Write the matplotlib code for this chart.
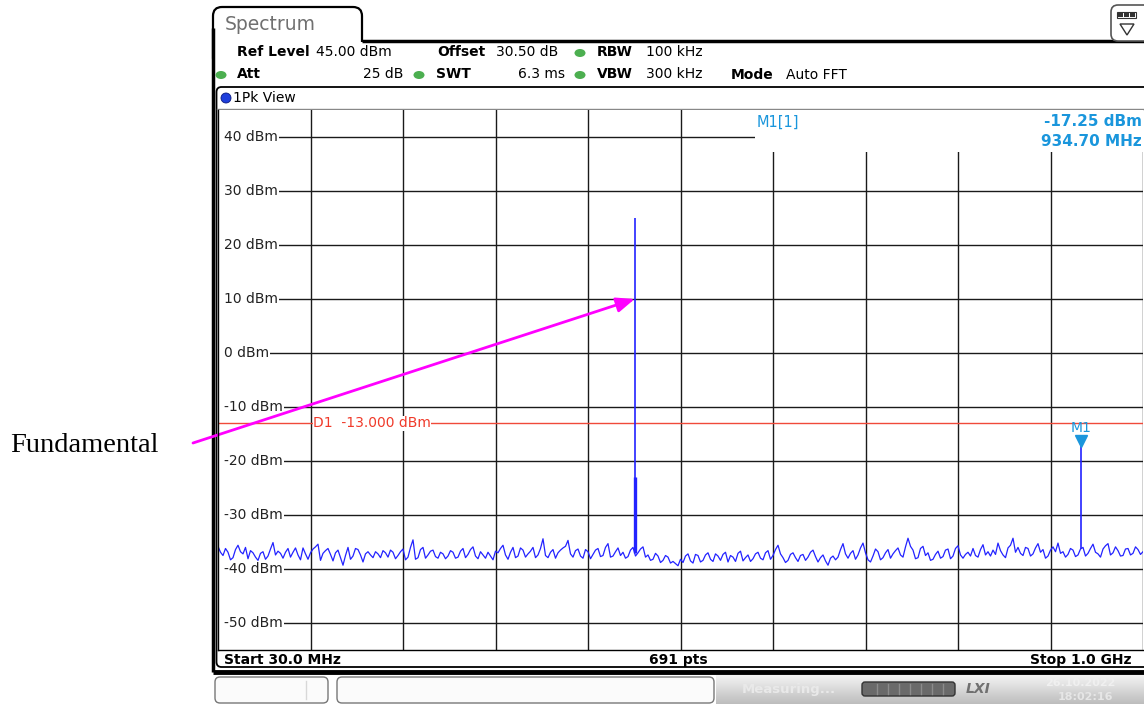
import numpy as np
import matplotlib
matplotlib.use('Agg')
import matplotlib.pyplot as plt
from matplotlib.patches import FancyBboxPatch, Rectangle, Circle, Polygon, Ellipse

# ---------------- data ----------------
start_mhz = 30.0
stop_mhz = 1000.0
ref_level = 45.0
bottom_level = -55.0

noise_dbm = [
    # 30 - 190 MHz
    -35.8, -36.9, -37.5, -36.2, -36.9, -38.3, -37.9, -36.4, -35.6, -36.8, -37.2, -36.0, -38.1, -36.6, -37.0, -37.8,
    -38.4, -37.1, -36.8, -38.2, -37.6, -36.3, -35.1, -37.4, -36.7, -37.1, -38.0, -36.9, -36.2, -37.8, -36.9, -36.1,
    -37.4, -38.3, -36.1, -37.2, -38.2, -37.0, -36.3, -35.9, -35.4, -38.4, -37.1, -36.6, -36.2, -37.3, -38.5, -37.0,
    -36.5, -37.9, -39.3, -37.5, -36.0, -38.2, -37.6, -36.2, -36.4, -37.4, -38.7, -37.2, -36.8, -37.4,
    # 190 - 350 MHz
    -37.9, -36.8, -37.2, -37.9, -36.6, -37.0, -37.8, -36.5, -36.9, -38.1, -37.5, -36.8, -36.3, -38.3, -37.8, -36.0,
    -34.6, -38.2, -37.9, -36.4, -36.0, -38.0, -37.4, -36.7, -36.5, -37.7, -38.0, -36.9, -37.2, -38.1, -37.6, -36.6,
    -36.9, -38.0, -37.8, -36.7, -36.2, -37.9, -37.3, -36.4, -35.9, -37.6, -38.1, -36.8, -37.4, -38.0, -36.9, -37.6,
    -38.3, -36.7, -37.0, -36.2, -35.6, -37.4, -38.2, -36.9, -36.0, -37.9, -37.6, -36.1, -36.5, -37.8,
    # 350 - 515 MHz
    -37.2, -36.7, -36.0, -37.9, -37.4, -36.2, -34.4, -37.5, -37.9, -36.9, -36.4, -38.0, -37.0, -36.5, -36.1, -35.8,
    -34.7, -37.2, -37.8, -36.6, -36.3, -37.6, -38.0, -36.4, -36.8, -38.1, -37.3, -36.5, -36.2, -37.7, -37.5, -36.0,
    -35.3, -37.8, -37.6, -36.8, -36.1, -37.5, -36.9, -38.0, -37.7, -36.5, -36.0, -37.6, -37.0, -36.3, -35.9, -37.8,
    -37.4, -38.4, -38.2, -37.1, -37.6, -38.8, -38.4, -37.5, -37.8, -38.9, -38.6, -39.0, -39.4, -38.2,
    # 515 - 675 MHz
    -38.8, -37.6, -37.2, -38.5, -38.9, -37.3, -37.5, -38.7, -38.4, -37.4, -37.0, -38.2, -38.6, -37.2, -37.6, -38.4,
    -37.3, -36.9, -38.7, -37.5, -37.8, -38.6, -37.1, -36.7, -38.5, -37.9, -37.4, -38.6, -38.1, -37.2, -36.9, -38.0,
    -38.3, -37.0, -36.6, -38.2, -37.5, -36.4, -35.6, -37.2, -37.9, -38.8, -38.4, -37.3, -37.0, -37.9, -38.6, -37.5,
    -37.3, -38.4, -37.8, -36.9, -36.5, -37.7, -38.7, -37.9, -37.4, -38.5, -39.3, -38.0, -37.6, -38.3,
    # 675 - 840 MHz
    -37.8, -36.4, -35.3, -37.2, -38.0, -37.1, -36.6, -38.2, -37.4, -36.1, -35.2, -37.0, -38.3, -38.7, -37.6, -36.3,
    -36.8, -38.3, -37.9, -37.0, -36.4, -38.0, -37.2, -36.6, -36.1, -37.4, -37.8, -35.9, -34.3, -35.8, -36.5, -38.1,
    -37.9, -36.2, -35.8, -37.5, -37.0, -38.4, -38.2, -37.3, -36.7, -38.0, -37.7, -36.5, -36.3, -38.1, -37.6, -36.2,
    -35.7, -37.4, -38.0, -37.3, -36.9, -37.6, -36.2, -37.5, -37.8, -36.4, -35.5, -37.4, -36.8, -37.6,
    # 840 - 1000 MHz
    -36.5, -37.3, -35.2, -36.6, -37.4, -37.9, -36.1, -35.6, -34.3, -36.9, -36.0, -37.1, -37.5, -36.0, -36.2, -37.6,
    -37.2, -36.1, -35.3, -36.9, -36.4, -38.0, -37.6, -36.5, -35.9, -36.8, -35.2, -37.1, -36.8, -37.8, -37.3, -36.2,
    -36.5, -37.7, -37.4, -36.3, -36.0, -37.6, -37.1, -36.2, -35.4, -36.9, -37.2, -37.8, -36.3, -35.7, -35.3, -37.4,
    -37.0, -35.9, -36.6, -37.6, -37.5, -36.3, -36.2, -37.4, -37.1, -35.9, -36.4, -37.3, -36.8,
]
noise_freq_mhz = np.linspace(start_mhz, stop_mhz, len(noise_dbm))

fund_freq_mhz = 467.0
fund_peak_dbm = 25.0
fund_shoulder_dbm = -23.0
m1_freq_mhz = 934.70
m1_level_dbm = -17.25
d1_level_dbm = -13.0

y_ticks = [40, 30, 20, 10, 0, -10, -20, -30, -40, -50]
y_tick_labels = ["40 dBm", "30 dBm", "20 dBm", "10 dBm", "0 dBm", "-10 dBm",
                 "-20 dBm", "-30 dBm", "-40 dBm", "-50 dBm"]
n_xdiv = 10

# ---------------- figure ----------------
W, H = 1144, 708
fig = plt.figure(figsize=(W / 100, H / 100), dpi=100)
fig.patch.set_facecolor('white')

ov = fig.add_axes([0, 0, 1, 1], zorder=0)
ov.set_xlim(0, W)
ov.set_ylim(H, 0)
ov.axis('off')

FONT = 'DejaVu Sans'
BLUE_TXT = '#1a96dc'
GREEN = '#4caf50'

# Spectrum tab
tab = FancyBboxPatch((213, 7), 149, 60, boxstyle='round,pad=0,rounding_size=9',
                     facecolor='white', edgecolor='black', lw=1.6, zorder=1)
ov.add_patch(tab)
ov.add_patch(Rectangle((214.5, 42), 930, 44, facecolor='white', edgecolor='none', zorder=2))
ov.text(225, 24, 'Spectrum', fontsize=13.5, color='#707070', family=FONT, va='center', zorder=3)
ov.plot([361.5, 1144], [41, 41], color='black', lw=2.5, zorder=3, solid_capstyle='butt')
ov.plot([213, 213], [28, 672], color='black', lw=2.5, zorder=3, solid_capstyle='butt')
ov.plot([213, 1144], [671.5, 671.5], color='black', lw=3.5, zorder=3, solid_capstyle='butt')

# top right icon
ic = FancyBboxPatch((1111, 5), 40, 36, boxstyle='round,pad=0,rounding_size=7',
                    facecolor='white', edgecolor='#555555', lw=1.2, zorder=3)
ov.add_patch(ic)
for k in range(3):
    ov.add_patch(Rectangle((1118 + k * 6, 13), 5, 4, facecolor='#333333', edgecolor='none', zorder=4))
ov.add_patch(Rectangle((1117, 12), 19, 6, facecolor='none', edgecolor='#333333', lw=0.8, zorder=4))
ov.add_patch(Polygon([[1120, 24], [1134, 24], [1127, 35]], closed=True, facecolor='white',
                     edgecolor='#333333', lw=1.0, zorder=4))

# header text
hdr = dict(fontsize=10, family=FONT, va='center', zorder=4)
ov.text(237, 52, 'Ref Level', fontweight='bold', **hdr)
ov.text(316, 52, '45.00 dBm', **hdr)
ov.text(437, 52, 'Offset', fontweight='bold', **hdr)
ov.text(496, 52, '30.50 dB', **hdr)
ov.text(597, 52, 'RBW', fontweight='bold', **hdr)
ov.text(646, 52, '100 kHz', **hdr)
ov.text(237, 74, 'Att', fontweight='bold', **hdr)
ov.text(403, 74, '25 dB', ha='right', **hdr)
ov.text(436, 74, 'SWT', fontweight='bold', **hdr)
ov.text(565, 74, '6.3 ms', ha='right', **hdr)
ov.text(597, 74, 'VBW', fontweight='bold', **hdr)
ov.text(646, 74, '300 kHz', **hdr)
ov.text(731, 75, 'Mode', fontweight='bold', **hdr)
ov.text(786, 75, 'Auto FFT', **hdr)
for (cx, cy) in [(580, 53), (221, 75), (419, 75), (580, 75)]:
    ov.add_patch(Ellipse((cx, cy), 11, 8, facecolor=GREEN, edgecolor='none', zorder=4))

# view window frame
view = FancyBboxPatch((216.5, 87), 940, 580, boxstyle='round,pad=0,rounding_size=5',
                      facecolor='white', edgecolor='black', lw=1.3, zorder=1.5)
ov.add_patch(view)
ov.add_patch(Circle((226, 98), 5, facecolor='#1f3fdc', edgecolor='#0a1a80', lw=0.6, zorder=4))
ov.text(233, 98, '1Pk View', fontsize=10, family=FONT, va='center', zorder=4)
ov.plot([217, 1144], [108.5, 108.5], color='#888888', lw=1, zorder=3)

# status line
ov.text(224, 660, 'Start 30.0 MHz', fontsize=10, fontweight='bold', family=FONT, va='center', zorder=4)
ov.text(678, 660, '691 pts', fontsize=10, fontweight='bold', family=FONT, va='center', ha='center', zorder=4)
ov.text(1132, 660, 'Stop 1.0 GHz', fontsize=10, fontweight='bold', family=FONT, va='center', ha='right', zorder=4)

# bottom bar
grad = np.linspace(0, 1, 50).reshape(-1, 1)
ov.imshow(grad, extent=(716, 1144, 704, 675), cmap=matplotlib.colors.LinearSegmentedColormap.from_list(
    'g', ['#f4f4f4', '#bdbdbd']), aspect='auto', zorder=2)
for (x0, w0) in [(215, 113), (337, 377)]:
    ov.add_patch(FancyBboxPatch((x0, 677), w0, 26, boxstyle='round,pad=0,rounding_size=5',
                                facecolor='#fbfbfb', edgecolor='#777777', lw=1.0, zorder=3))
ov.plot([306, 306], [681, 699], color='#d8d8d8', lw=1, zorder=4)
ov.text(742, 690, 'Measuring...', fontsize=9.5, fontweight='bold', family=FONT, color='#e9e9e9',
        va='center', zorder=4)
ov.add_patch(FancyBboxPatch((862, 682), 93, 14, boxstyle='round,pad=0,rounding_size=3',
                            facecolor='#6a6a6a', edgecolor='#333333', lw=1, zorder=4))
for k in range(1, 8):
    ov.plot([866 + k * 11, 866 + k * 11], [684, 694], color='#8c8c8c', lw=1, zorder=5)
ov.text(978, 689, 'LXI', fontsize=10, fontweight='bold', style='italic', family=FONT, color='#707070',
        va='center', ha='center', zorder=4)
ov.text(1045, 683, '26.10.2022', fontsize=8, fontweight='bold', family=FONT, color='#f0f0f0',
        va='center', zorder=4)
ov.text(1058, 697, '18:02:16', fontsize=8, fontweight='bold', family=FONT, color='#e6e6e6',
        va='center', zorder=4)

# annotation text
fig.text(10 / W, 1 - 446 / H, 'Fundamental', fontsize=20.5, family='Liberation Serif', va='center', ha='left')

# ---------------- data axes ----------------
x0p, x1p, y0p, y1p = 218, 1143, 110, 650
ax = fig.add_axes([x0p / W, 1 - y1p / H, (x1p - x0p) / W, (y1p - y0p) / H], zorder=2)
ax.set_facecolor('white')
ax.set_xlim(start_mhz, stop_mhz)
ax.set_ylim(bottom_level, ref_level)
ax.set_xticks(np.linspace(start_mhz, stop_mhz, n_xdiv + 1))
ax.set_yticks(y_ticks)
ax.tick_params(length=0, labelleft=False, labelbottom=False)
ax.grid(True, color='#1a1a1a', lw=1.0, zorder=1)
ax.set_axisbelow(True)
for s in ['top', 'right']:
    ax.spines[s].set_visible(False)
for s in ['left', 'bottom']:
    ax.spines[s].set_color('black')
    ax.spines[s].set_linewidth(1.0)
    ax.spines[s].set_zorder(6)

# white strip where the level labels start (grid starts after the label)
ax.add_patch(Rectangle((0, 0), 0.0075, 1, transform=ax.transAxes,
                       facecolor='white', edgecolor='none', zorder=1.8))

# marker info box hides grid top-right
ax.add_patch(Rectangle((0.5805, (650 - 152) / 540), 0.5, 0.2, transform=ax.transAxes,
                       facecolor='white', edgecolor='none', zorder=1.5))
ax.text(0.5827, (650 - 122) / 540, 'M1[1]', transform=ax.transAxes, fontsize=10.5, family=FONT,
        color=BLUE_TXT, va='center', zorder=3)
ax.text(0.9985, (650 - 122) / 540, '-17.25 dBm', transform=ax.transAxes, fontsize=11, family=FONT,
        fontweight='bold', color=BLUE_TXT, va='center', ha='right', zorder=3)
ax.text(0.9985, (650 - 141) / 540, '934.70 MHz', transform=ax.transAxes, fontsize=11, family=FONT,
        fontweight='bold', color=BLUE_TXT, va='center', ha='right', zorder=3)

# y labels
for v, lab in zip(y_ticks, y_tick_labels):
    ax.text(0.0065, v, lab, transform=ax.get_yaxis_transform(), fontsize=10, family=FONT,
            color='#222222', va='center', ha='left', zorder=2,
            bbox=dict(boxstyle='square,pad=0.08', facecolor='white', edgecolor='none'))

# D1 line
ax.axhline(d1_level_dbm, color='#f04a3a', lw=1.0, zorder=2)
ax.text(start_mhz + (stop_mhz - start_mhz) * (313 - x0p) / (x1p - x0p), d1_level_dbm,
        'D1  -13.000 dBm', fontsize=10, family=FONT, color='#f03a2a', va='center', ha='left', zorder=2.5,
        bbox=dict(facecolor='white', edgecolor='none', pad=0.3))

# trace
trace_color = '#2323ff'
ax.plot(noise_freq_mhz, noise_dbm, color=trace_color, lw=0.9, zorder=4)
fund_base = np.interp(fund_freq_mhz, noise_freq_mhz, noise_dbm)
m1_base = np.interp(m1_freq_mhz, noise_freq_mhz, noise_dbm)
ax.vlines([fund_freq_mhz], [fund_base], [fund_peak_dbm], color=trace_color, lw=1.2, zorder=4)
ax.vlines([fund_freq_mhz + 0.6], [fund_base], [fund_shoulder_dbm], color=trace_color, lw=2.4, zorder=4)
ax.vlines([m1_freq_mhz], [m1_base], [m1_level_dbm], color=trace_color, lw=1.2, zorder=4)

# M1 marker
ax.plot([m1_freq_mhz], [m1_level_dbm + 1.0], marker='v', markersize=8, color=BLUE_TXT,
        markeredgecolor=BLUE_TXT, zorder=5, clip_on=False)
ax.text(m1_freq_mhz, m1_level_dbm + 3.3, 'M1', fontsize=10, family=FONT, color=BLUE_TXT,
        ha='center', va='center', zorder=5)

# arrow
ax.annotate('', xy=(fund_freq_mhz, 10.0), xycoords='data',
            xytext=(193, H - 443), textcoords='figure pixels',
            arrowprops=dict(arrowstyle='-|>,head_length=1.1,head_width=0.45', color='#ff00ff',
                            lw=2.0, mutation_scale=10, shrinkA=0, shrinkB=0),
            annotation_clip=False, zorder=6)

fig.savefig('out.png', dpi=100, facecolor='white')
